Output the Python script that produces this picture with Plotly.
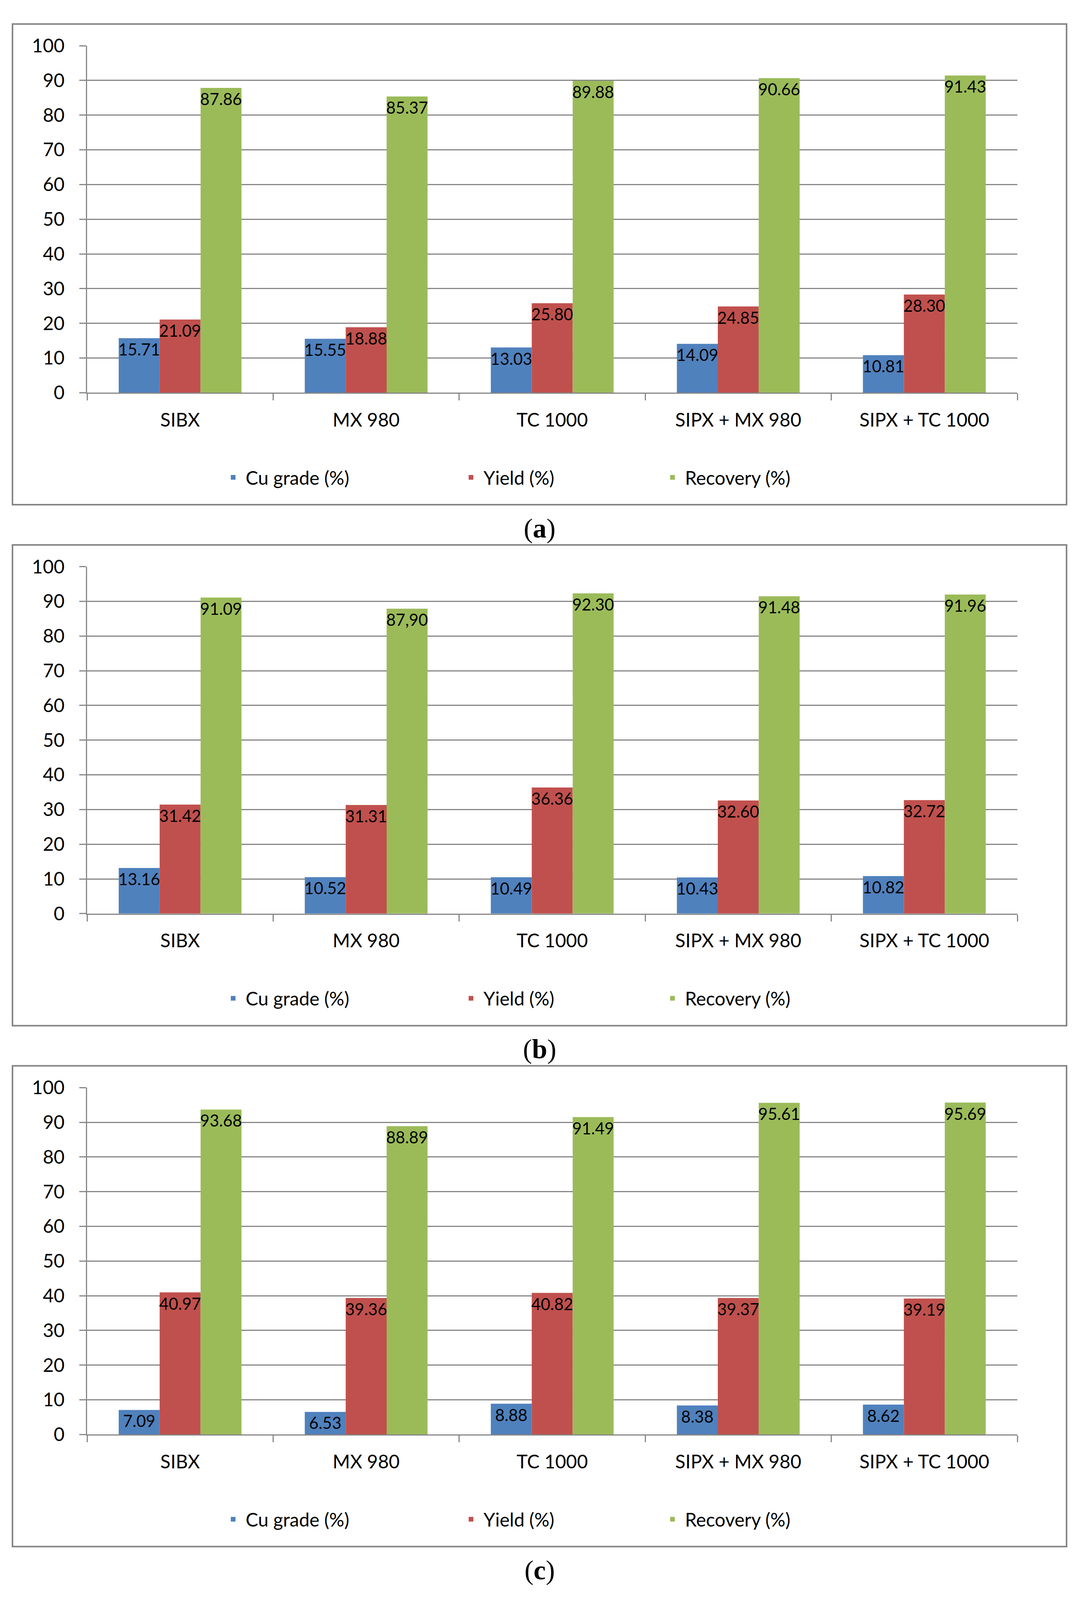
import plotly.graph_objects as go

W, H = 2768, 4634

categories = ["SIBX", "MX 980", "TC 1000", "SIPX + MX 980", "SIPX + TC 1000"]
series_names = ["Cu grade (%)", "Yield (%)", "Recovery (%)"]
series_colors = ["#4F81BD", "#C0504D", "#9BBB59"]
panel_letters = ["a", "b", "c"]

# Panel (a)
a_cu = [15.71, 15.55, 13.03, 14.09, 10.81]
a_yield = [21.09, 18.88, 25.80, 24.85, 28.30]
a_recovery = [87.86, 85.37, 89.88, 90.66, 91.43]
# Panel (b)
b_cu = [13.16, 10.52, 10.49, 10.43, 10.82]
b_yield = [31.42, 31.31, 36.36, 32.60, 32.72]
b_recovery = [91.09, 87.90, 92.30, 91.48, 91.96]
b_recovery_labels = ["91.09", "87,90", "92.30", "91.48", "91.96"]
# Panel (c)
c_cu = [7.09, 6.53, 8.88, 8.38, 8.62]
c_yield = [40.97, 39.36, 40.82, 39.37, 39.19]
c_recovery = [93.68, 88.89, 91.49, 95.61, 95.69]

y_ticks = [0, 10, 20, 30, 40, 50, 60, 70, 80, 90, 100]


def fmt(vals):
    return [f"{v:.2f}" for v in vals]


panels = [
    [(a_cu, fmt(a_cu)), (a_yield, fmt(a_yield)), (a_recovery, fmt(a_recovery))],
    [(b_cu, fmt(b_cu)), (b_yield, fmt(b_yield)), (b_recovery, b_recovery_labels)],
    [(c_cu, fmt(c_cu)), (c_yield, fmt(c_yield)), (c_recovery, fmt(c_recovery))],
]

GRID = "#878787"
FONT = "Lato"
PERIOD = 1530          # vertical distance between panels (px)
PLOT_TOP = 100         # y=100 line of panel (a), px from top
PLOT_H = 1019          # height of plotting area, px
X_LEFT, X_RIGHT = 223, 2605
BOX_L, BOX_R = 32, 2731
BOX_TOP_OFF, BOX_BOT_OFF = -64, 1348   # relative to PLOT_TOP
LEGEND_OFF = 1268      # legend centre relative to PLOT_TOP
LABEL_OFF = 1417       # panel letter centre relative to PLOT_TOP
LEGEND_X = [565, 1174, 1690]

fig = go.Figure()
layout = dict(
    width=W, height=H,
    margin=dict(l=0, r=0, t=0, b=0, pad=0),
    paper_bgcolor="white", plot_bgcolor="white",
    barmode="group", bargap=0.34, bargroupgap=0,
    font=dict(family=FONT, size=48, color="#000000"),
    shapes=[], annotations=[],
)

for p in range(3):
    top = PLOT_TOP + p * PERIOD
    bot = top + PLOT_H
    suffix = "" if p == 0 else str(p + 1)
    xa, ya = "x" + suffix, "y" + suffix
    for s in range(3):
        vals, labels = panels[p][s]
        leg_idx = p * 3 + s + 1
        leg_name = "legend" if leg_idx == 1 else f"legend{leg_idx}"
        fig.add_trace(go.Bar(
            x=categories, y=vals, name=series_names[s],
            marker=dict(color=series_colors[s], line=dict(width=0)),
            text=labels, textposition="inside", insidetextanchor="end",
            textangle=0, constraintext="none",
            textfont=dict(family=FONT, size=42, color="#000000"),
            xaxis=xa, yaxis=ya, legend=leg_name, showlegend=True,
        ))
        layout[leg_name] = dict(
            x=LEGEND_X[s] / W, xanchor="left",
            y=1 - (top + LEGEND_OFF) / H, yanchor="middle",
            orientation="h", bgcolor="rgba(0,0,0,0)", borderwidth=0,
            itemwidth=54, font=dict(family=FONT, size=48, color="#000000"),
        )
    layout["xaxis" + suffix] = dict(
        domain=[X_LEFT / W, X_RIGHT / W], anchor=ya,
        showline=True, linecolor=GRID, linewidth=3,
        ticks="outside", tickson="boundaries", ticklen=17, tickwidth=3, tickcolor=GRID,
        showgrid=False, tickfont=dict(family=FONT, size=48, color="#000000"),
        ticklabelstandoff=26,
    )
    layout["yaxis" + suffix] = dict(
        domain=[1 - bot / H, 1 - top / H], anchor=xa, range=[0, 100],
        tickvals=y_ticks, showline=True, linecolor=GRID, linewidth=3,
        showgrid=True, gridcolor=GRID, gridwidth=3, zeroline=False,
        ticks="outside", ticklen=17, tickwidth=3, tickcolor=GRID,
        tickfont=dict(family=FONT, size=48, color="#000000"),
        ticklabelstandoff=28,
    )
    layout["shapes"].append(dict(
        type="rect", xref="paper", yref="paper",
        x0=BOX_L / W, x1=BOX_R / W,
        y0=1 - (top + BOX_BOT_OFF) / H, y1=1 - (top + BOX_TOP_OFF) / H,
        line=dict(color="#858585", width=4), fillcolor="rgba(0,0,0,0)", layer="below",
    ))
    layout["annotations"].append(dict(
        text=f"(<b>{panel_letters[p]}</b>)", xref="paper", yref="paper",
        x=1382 / W, y=1 - (top + LABEL_OFF) / H, xanchor="center", yanchor="middle",
        showarrow=False, font=dict(family="Liberation Serif", size=70, color="#000000"),
    ))

fig.update_layout(**layout)

# Make the page flush with the window and fit the figure to the visible area.
fit_js = (
    "document.body.style.margin='0';document.body.style.overflow='hidden';"
    "var gd=document.getElementById('{plot_id}');"
    "Plotly.relayout(gd,{width:window.innerWidth,height:window.innerHeight});"
)
fig.write_html("out.html", post_script=fit_js, config={"displayModeBar": False})
